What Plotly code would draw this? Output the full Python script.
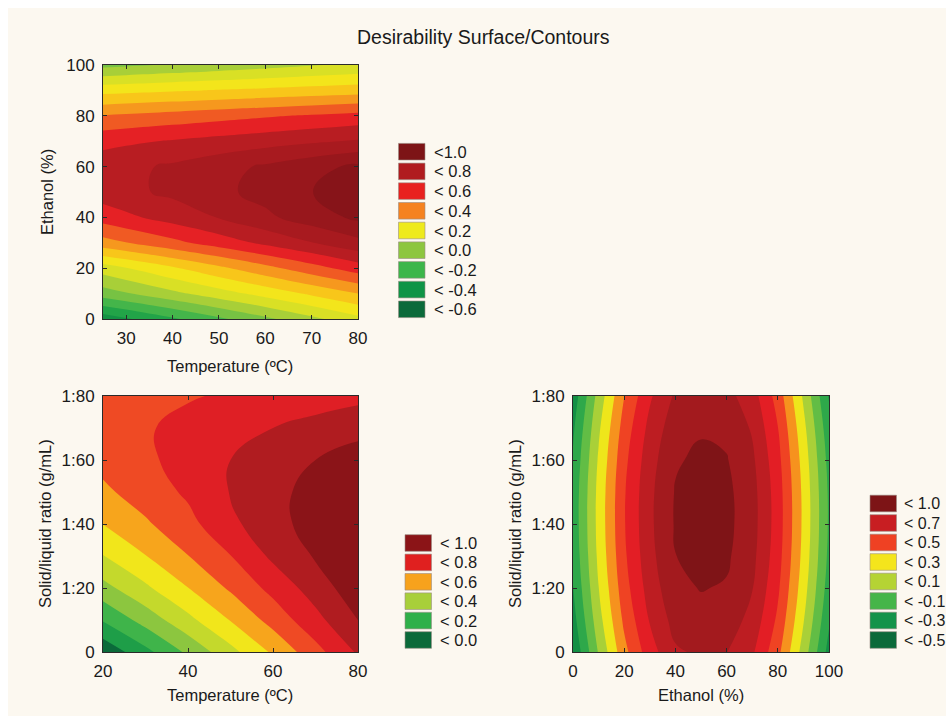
import plotly.graph_objects as go

W, H = 946, 722
FONT = "Liberation Sans, Arial, sans-serif"
BG = "#fcf8f0"

# ---------------- Panel 1: Temperature vs Ethanol ----------------
temp1 = [25, 30, 40, 50, 60, 70, 80]
ethanol1 = [0, 10, 20, 30, 40, 50, 60, 70, 80, 90, 100]
desir1 = [
    [-0.46, -0.412, -0.315, -0.219, -0.123, -0.026, 0.07],
    [-0.15, -0.109, -0.027, 0.055, 0.136, 0.218, 0.30],
    [0.05, 0.095, 0.186, 0.277, 0.368, 0.459, 0.55],
    [0.36, 0.397, 0.472, 0.546, 0.621, 0.696, 0.77],
    [0.545, 0.579, 0.640, 0.705, 0.778, 0.852, 0.92],
    [0.65, 0.675, 0.722, 0.775, 0.835, 0.898, 0.96],
    [0.655, 0.676, 0.715, 0.762, 0.815, 0.868, 0.92],
    [0.57, 0.583, 0.608, 0.634, 0.659, 0.685, 0.71],
    [0.405, 0.417, 0.44, 0.464, 0.488, 0.511, 0.535],
    [0.165, 0.173, 0.19, 0.206, 0.222, 0.239, 0.255],
    [-0.13, -0.116, -0.089, -0.062, -0.035, -0.007, 0.02],
]
bands1 = ["#0b6a3a", "#0f7e3e", "#149244", "#22a448", "#44b54a", "#77c243",
          "#a8cf38", "#d9e025", "#f3e51b", "#f8c61a", "#f6981e", "#f05a23",
          "#e52125", "#b81d22", "#a81a1f", "#98171c", "#871419"]
legend1_labels = ["<1.0", "< 0.8", "< 0.6", "< 0.4", "< 0.2", "< 0.0", "< -0.2", "< -0.4", "< -0.6"]
legend1_colors = ["#7d1416", "#b01c1f", "#e8211f", "#f58220", "#eeea1c", "#8dc63f", "#3cb64a", "#0f9446", "#0b6a3a"]

# ---------------- Panel 2: Temperature vs Solid/liquid ratio ----------------
temp2 = [20, 30, 40, 50, 60, 70, 80]
ratio2 = [0, 10, 20, 30, 40, 50, 60, 70, 80]
desir2 = [
    [-0.077, 0.071, 0.220, 0.368, 0.516, 0.665, 0.813],
    [0.108, 0.240, 0.372, 0.505, 0.637, 0.769, 0.901],
    [0.266, 0.382, 0.498, 0.615, 0.731, 0.847, 0.963],
    [0.397, 0.497, 0.598, 0.698, 0.820, 0.910, 0.998],
    [0.502, 0.586, 0.670, 0.775, 0.870, 0.935, 1.006],
    [0.580, 0.648, 0.716, 0.805, 0.875, 0.930, 0.987],
    [0.631, 0.683, 0.735, 0.800, 0.855, 0.900, 0.942],
    [0.655, 0.691, 0.727, 0.763, 0.800, 0.834, 0.870],
    [0.653, 0.673, 0.692, 0.712, 0.732, 0.751, 0.771],
]
bands2 = ["#0b6a3a", "#1e9e48", "#3fb44a", "#8cc63f", "#c4d92c", "#f1e61b",
          "#f7a51c", "#ef4a24", "#df1f25", "#b01c20", "#8b1418"]
legend2_labels = ["< 1.0", "< 0.8", "< 0.6", "< 0.4", "< 0.2", "< 0.0"]
legend2_colors = ["#8b1417", "#e0201f", "#f7a21c", "#a8cf3a", "#2fb04a", "#0b6a3a"]

# ---------------- Panel 3: Ethanol vs Solid/liquid ratio ----------------
ethanol3 = [0, 10, 20, 30, 40, 50, 60, 70, 80, 90, 100]
ratio3 = [0, 10, 20, 30, 40, 50, 60, 70, 80]
desir3 = [
    [-0.586, -0.136, 0.254, 0.534, 0.729, 0.774, 0.754, 0.624, 0.344, -0.066, -0.506],
    [-0.509, -0.059, 0.331, 0.611, 0.806, 0.851, 0.831, 0.701, 0.421, 0.011, -0.429],
    [-0.453, -0.003, 0.387, 0.667, 0.862, 0.907, 0.887, 0.757, 0.477, 0.067, -0.373],
    [-0.417, 0.033, 0.423, 0.703, 0.898, 0.943, 0.923, 0.793, 0.513, 0.103, -0.337],
    [-0.401, 0.049, 0.439, 0.719, 0.914, 0.959, 0.939, 0.809, 0.529, 0.119, -0.321],
    [-0.405, 0.045, 0.435, 0.715, 0.910, 0.955, 0.935, 0.805, 0.525, 0.115, -0.325],
    [-0.431, 0.019, 0.409, 0.689, 0.884, 0.929, 0.909, 0.779, 0.499, 0.089, -0.351],
    [-0.476, -0.026, 0.364, 0.644, 0.839, 0.884, 0.864, 0.734, 0.454, 0.044, -0.396],
    [-0.542, -0.092, 0.298, 0.578, 0.773, 0.818, 0.798, 0.668, 0.388, -0.022, -0.462],
]
bands3 = ["#0b6a3a", "#138f45", "#2ea84a", "#62bd45", "#a9d038", "#eee61b",
          "#f6921e", "#ef4323", "#e31e25", "#bd1d22", "#a31a1e", "#7f1417"]
legend3_labels = ["< 1.0", "< 0.7", "< 0.5", "< 0.3", "< 0.1", "< -0.1", "< -0.3", "< -0.5"]
legend3_colors = ["#7d1416", "#c81e22", "#ef4123", "#f4e51c", "#b5d334", "#45b549", "#14934a", "#0b6a3a"]

ratio_ticks = [0, 20, 40, 60, 80]
ratio_text = ["0", "1:20", "1:40", "1:60", "1:80"]


def px(x):
    return x / W


def py(y):
    return 1 - y / H


def discrete_scale(colors):
    n = len(colors) - 1
    return [[i / n, c] for i, c in enumerate(colors)]


fig = go.Figure()


def add_contour(x, y, z, colors, start, end, size, xa, ya):
    fig.add_trace(go.Contour(
        x=x, y=y, z=z, xaxis=xa, yaxis=ya,
        colorscale=discrete_scale(colors), showscale=False,
        contours=dict(start=start, end=end, size=size, coloring="fill", showlines=False),
        line=dict(width=0, smoothing=1.3),
        hoverinfo="skip",
    ))


add_contour(temp1, ethanol1, desir1, bands1, -0.6, 0.9, 0.1, "x", "y")
add_contour(temp2, ratio2, desir2, bands2, 0.0, 0.9, 0.1, "x2", "y2")
add_contour(ethanol3, ratio3, desir3, bands3, -0.6, 0.9, 0.15, "x3", "y3")

axis_common = dict(
    showline=True, linecolor="#2a2a2a", linewidth=1, mirror="ticks",
    ticks="inside", ticklen=4, tickcolor="#2a2a2a", showgrid=False, zeroline=False,
    automargin=False,
    tickfont=dict(family=FONT, size=17, color="#1a1a1a"),
)

fig.update_layout(
    width=W, height=H, margin=dict(l=0, r=0, t=0, b=0, autoexpand=False),
    paper_bgcolor="#ffffff", plot_bgcolor=BG, showlegend=False,
    xaxis=dict(domain=[px(103), px(358)], range=[25, 80], tickvals=[30, 40, 50, 60, 70, 80],
               anchor="y", ticklabelstandoff=4, **axis_common),
    yaxis=dict(domain=[py(319), py(65)], range=[0, 100], tickvals=[0, 20, 40, 60, 80, 100],
               anchor="x", ticklabelstandoff=4, **axis_common),
    xaxis2=dict(domain=[px(103), px(358)], range=[20, 80], tickvals=[20, 40, 60, 80],
                anchor="y2", ticklabelstandoff=4, **axis_common),
    yaxis2=dict(domain=[py(652), py(396)], range=[0, 80], tickvals=ratio_ticks, ticktext=ratio_text,
                anchor="x2", ticklabelstandoff=4, **axis_common),
    xaxis3=dict(domain=[px(573), px(829)], range=[0, 100], tickvals=[0, 20, 40, 60, 80, 100],
                anchor="y3", ticklabelstandoff=4, **axis_common),
    yaxis3=dict(domain=[py(652), py(396)], range=[0, 80], tickvals=ratio_ticks, ticktext=ratio_text,
                anchor="x3", ticklabelstandoff=4, **axis_common),
)

annotations = []
# cream page area (the scanned figure sits on a cream background with a thin white border)
shapes = [dict(type="rect", xref="paper", yref="paper", layer="below",
               x0=px(8), x1=1.0, y0=py(716), y1=py(8),
               fillcolor=BG, line=dict(width=0))]


def text(x, y, s, size=16.5, angle=0, xanchor="center"):
    annotations.append(dict(
        x=px(x), y=py(y), xref="paper", yref="paper", text=s, showarrow=False,
        xanchor=xanchor, yanchor="middle", textangle=angle,
        font=dict(family=FONT, size=size, color="#1a1a1a"),
    ))


text(483, 37, "Desirability Surface/Contours", size=19.5)
text(230, 366, "Temperature (ºC)")
text(47, 192, "Ethanol (%)", angle=-90)
text(230, 695, "Temperature (ºC)")
text(45, 524, "Solid/liquid ratio (g/mL)", angle=-90)
text(701, 695, "Ethanol (%)")
text(515, 524, "Solid/liquid ratio (g/mL)", angle=-90)


def legend(x0, y_top, step, labels, colors, text_x, size=16.5):
    for i, (lab, col) in enumerate(zip(labels, colors)):
        yc = y_top + i * step
        shapes.append(dict(type="rect", xref="paper", yref="paper",
                           x0=px(x0), x1=px(x0 + 26.5), y0=py(yc - 8.3), y1=py(yc + 8.3),
                           fillcolor=col, line=dict(color="#9a8f86", width=0.6)))
        text(text_x, yc, lab, size=size, xanchor="left")


legend(398.5, 151.7, 19.7, legend1_labels, legend1_colors, 432)
legend(405, 543, 19.4, legend2_labels, legend2_colors, 438)
legend(870, 503.5, 19.5, legend3_labels, legend3_colors, 902, size=16)

fig.update_layout(annotations=annotations, shapes=shapes)
fig.write_html(
    "out.html",
    config={"displayModeBar": False},
    post_script="document.body.style.margin='0';document.documentElement.style.overflow='hidden';",
)
